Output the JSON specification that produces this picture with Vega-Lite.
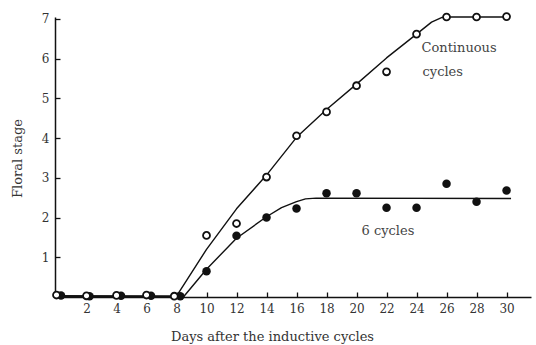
{
  "$schema": "https://vega.github.io/schema/vega-lite/v6.json",
  "width": 476,
  "height": 280,
  "autosize": {"type": "none"},
  "padding": {"left": 55, "top": 17, "right": 5, "bottom": 48},
  "background": "white",
  "config": {
    "view": {"stroke": null},
    "font": "DejaVu Serif",
    "axis": {
      "grid": false,
      "domainColor": "#111",
      "domainWidth": 1.5,
      "tickColor": "#111",
      "tickWidth": 1.3,
      "labelFont": "DejaVu Serif",
      "labelFontSize": 12,
      "labelColor": "#333",
      "labelOverlap": false,
      "titleFont": "DejaVu Serif",
      "titleFontSize": 13,
      "titleFontWeight": "normal",
      "titleColor": "#333"
    },
    "axisX": {"labelOverlap": false},
    "axisY": {"labelOverlap": false}
  },
  "datasets": {
    "points": [
      {"series": "Continuous", "day": 0, "stage": 0.05},
      {"series": "Continuous", "day": 2, "stage": 0.03},
      {"series": "Continuous", "day": 4, "stage": 0.04},
      {"series": "Continuous", "day": 6, "stage": 0.05},
      {"series": "Continuous", "day": 7.85, "stage": 0.02},
      {"series": "Continuous", "day": 10, "stage": 1.55},
      {"series": "Continuous", "day": 12, "stage": 1.85},
      {"series": "Continuous", "day": 14, "stage": 3.02},
      {"series": "Continuous", "day": 16, "stage": 4.06},
      {"series": "Continuous", "day": 18, "stage": 4.66},
      {"series": "Continuous", "day": 20, "stage": 5.32},
      {"series": "Continuous", "day": 22, "stage": 5.67},
      {"series": "Continuous", "day": 24, "stage": 6.62},
      {"series": "Continuous", "day": 26, "stage": 7.05},
      {"series": "Continuous", "day": 28, "stage": 7.05},
      {"series": "Continuous", "day": 30, "stage": 7.06},
      {"series": "6 cycles", "day": 0.3, "stage": 0.04},
      {"series": "6 cycles", "day": 2.2, "stage": 0.02},
      {"series": "6 cycles", "day": 4.3, "stage": 0.03},
      {"series": "6 cycles", "day": 6.3, "stage": 0.03},
      {"series": "6 cycles", "day": 8.25, "stage": 0.02},
      {"series": "6 cycles", "day": 10, "stage": 0.65},
      {"series": "6 cycles", "day": 12, "stage": 1.54},
      {"series": "6 cycles", "day": 14, "stage": 2.0},
      {"series": "6 cycles", "day": 16, "stage": 2.23},
      {"series": "6 cycles", "day": 18, "stage": 2.61},
      {"series": "6 cycles", "day": 20, "stage": 2.61},
      {"series": "6 cycles", "day": 22, "stage": 2.25},
      {"series": "6 cycles", "day": 24, "stage": 2.25},
      {"series": "6 cycles", "day": 26, "stage": 2.85},
      {"series": "6 cycles", "day": 28, "stage": 2.4},
      {"series": "6 cycles", "day": 30, "stage": 2.68}
    ],
    "curves": [
      {"series": "Continuous", "day": 0, "stage": 0.03},
      {"series": "Continuous", "day": 8.0, "stage": 0.02},
      {"series": "Continuous", "day": 10, "stage": 1.2},
      {"series": "Continuous", "day": 12, "stage": 2.22},
      {"series": "Continuous", "day": 14, "stage": 3.07},
      {"series": "Continuous", "day": 16, "stage": 4.02},
      {"series": "Continuous", "day": 18, "stage": 4.72},
      {"series": "Continuous", "day": 20, "stage": 5.36},
      {"series": "Continuous", "day": 22, "stage": 6.02},
      {"series": "Continuous", "day": 24, "stage": 6.62},
      {"series": "Continuous", "day": 25, "stage": 6.92},
      {"series": "Continuous", "day": 25.7, "stage": 7.04},
      {"series": "Continuous", "day": 26.2, "stage": 7.05},
      {"series": "Continuous", "day": 30, "stage": 7.05},
      {"series": "6 cycles", "day": 0, "stage": 0.02},
      {"series": "6 cycles", "day": 8.5, "stage": 0.02},
      {"series": "6 cycles", "day": 10, "stage": 0.7},
      {"series": "6 cycles", "day": 12, "stage": 1.48},
      {"series": "6 cycles", "day": 14, "stage": 2.02},
      {"series": "6 cycles", "day": 15, "stage": 2.25},
      {"series": "6 cycles", "day": 16, "stage": 2.4},
      {"series": "6 cycles", "day": 16.6, "stage": 2.47},
      {"series": "6 cycles", "day": 17.3, "stage": 2.49},
      {"series": "6 cycles", "day": 30.3, "stage": 2.48}
    ],
    "labels": [
      {"text": "Continuous", "day": 24.33, "stage": 6.27},
      {"text": "cycles", "day": 24.4, "stage": 5.67},
      {"text": "6 cycles", "day": 20.33, "stage": 1.66}
    ]
  },
  "encoding": {
    "x": {
      "field": "day", "type": "quantitative",
      "scale": {"domain": [-0.1, 31.63], "nice": false, "zero": false},
      "axis": {
        "values": [2, 4, 6, 8, 10, 12, 14, 16, 18, 20, 22, 24, 26, 28, 30],
        "labelOverlap": false,
        "labelBound": false,
        "labelFlush": false,
        "tickSize": -5,
        "labelPadding": 11,
        "title": "Days after the inductive cycles",
        "titleX": 217,
        "titleY": 33,
        "titleAnchor": "middle",
        "titleAlign": "center"
      }
    },
    "y": {
      "field": "stage", "type": "quantitative",
      "scale": {"domain": [0, 7.05], "nice": false},
      "axis": {
        "values": [1, 2, 3, 4, 5, 6, 7],
        "labelOverlap": false,
        "tickSize": -5,
        "labelPadding": 11,
        "title": "Floral stage",
        "titleAngle": -90,
        "titleX": -38,
        "titleY": 141,
        "titleAlign": "center",
        "titleBaseline": "middle"
      }
    }
  },
  "layer": [
    {
      "data": {"name": "curves"},
      "mark": {"type": "line", "interpolate": "linear", "color": "#111", "strokeWidth": 1.4, "strokeJoin": "round"},
      "encoding": {
        "detail": {"field": "series"}
      }
    },
    {
      "data": {"name": "points"},
      "transform": [{"filter": "datum.series === '6 cycles'"}],
      "mark": {"type": "point", "shape": "circle", "filled": true, "color": "#111", "size": 72, "opacity": 1}
    },
    {
      "data": {"name": "points"},
      "transform": [{"filter": "datum.series === 'Continuous'"}],
      "mark": {"type": "point", "shape": "circle", "filled": false, "fill": "white", "fillOpacity": 1, "stroke": "#111", "strokeWidth": 1.8, "size": 48, "opacity": 1}
    },
    {
      "data": {"name": "labels"},
      "mark": {"type": "text", "align": "left", "baseline": "middle", "font": "DejaVu Serif", "fontSize": 13, "color": "#444"},
      "encoding": {
        "text": {"field": "text"}
      }
    }
  ]
}
